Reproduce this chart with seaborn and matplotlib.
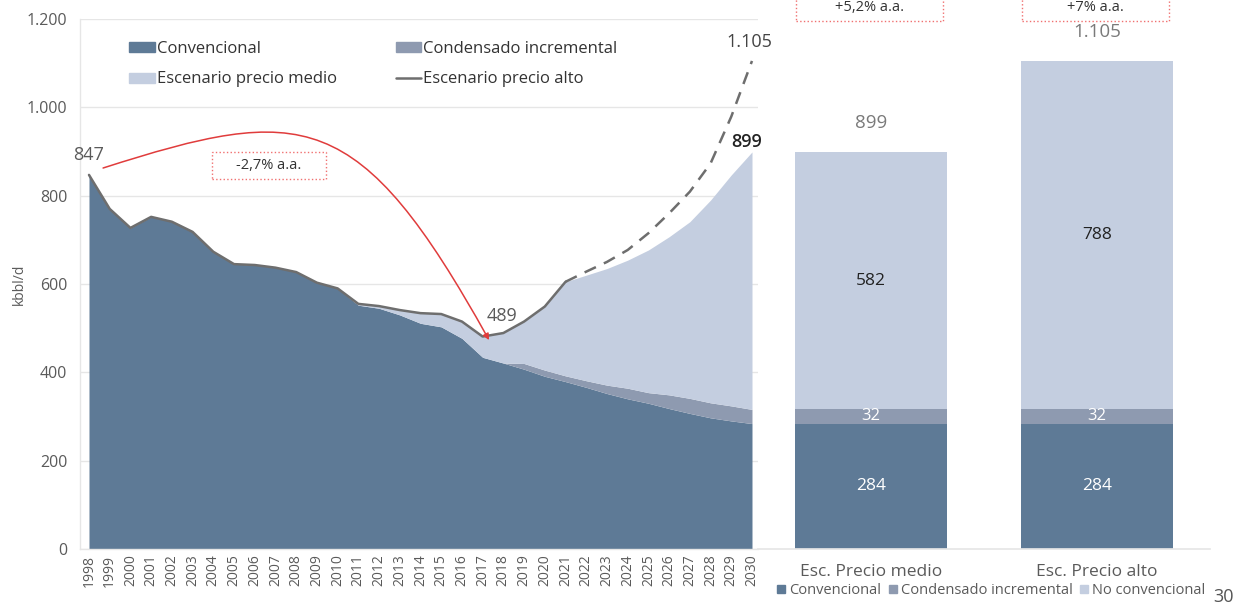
import numpy as np
import pandas as pd
import matplotlib
matplotlib.use("Agg")
import matplotlib.pyplot as plt
from matplotlib.patches import Patch, Rectangle, FancyArrowPatch
from matplotlib.lines import Line2D
from matplotlib.path import Path
import seaborn as sns

# ---- data -------------------------------------------------------------
years = list(range(1998, 2031))
convencional = [847, 770, 727, 752, 741, 718, 673, 645, 643, 637, 627, 603, 590,
                552, 545, 530, 511, 503, 477, 434,
                421, 407, 391, 379, 366, 352, 340, 330, 318, 307, 297, 290, 284]
condensado = [0] * 21 + [13, 14, 13, 15, 19, 24, 24, 31, 34, 34, 34, 32]
total_medio = [847, 770, 727, 752, 741, 718, 673, 645, 643, 637, 627, 603, 590,
               555, 550, 541, 534, 532, 515, 481,
               489, 515, 549, 605, 620, 635, 654, 677, 707, 741, 790, 847, 899]
alto_years = [2021, 2022, 2023, 2024, 2025, 2026, 2027, 2028, 2029, 2030]
total_alto = [605, 628, 650, 677, 715, 760, 809, 873, 979, 1105]

escenarios = ["Esc. Precio medio", "Esc. Precio alto"]
bar_conv = [284, 284]
bar_cond = [32, 32]
bar_noconv = [582, 788]
bar_total = [899, 1105]
bar_growth = ["+5,2% a.a.", "+7% a.a."]
hist_growth = "-2,7% a.a."

# ---- style ------------------------------------------------------------
sns.set_theme(style="white")
plt.rcParams["font.family"] = ["Open Sans", "DejaVu Sans"]

C_CONV = "#5E7A96"
C_COND = "#8E9AB0"
C_LIGHT = "#C4CEE0"
C_LINE = "#6E6E6E"
C_GRID = "#E6E6E6"
C_TEXT = "#5A5A5A"
C_RED = "#E03C3C"

W, H = 1244, 606
fig = plt.figure(figsize=(W / 100, H / 100), dpi=100)

axb = fig.add_axes([758 / W, 57 / H, 452 / W, 530 / H])
ax = fig.add_axes([80 / W, 57 / H, 678 / W, 530 / H])
ax.set_zorder(3)
ax.patch.set_visible(False)
axb.patch.set_visible(False)

df = pd.DataFrame({"year": years, "conv": convencional, "cond": condensado,
                   "total": total_medio})
df["cc"] = df["conv"] + df["cond"]

# ---- left panel: stacked areas ---------------------------------------
ax.fill_between(df["year"], 0, df["conv"], color=C_CONV, lw=0, zorder=2)
ax.fill_between(df["year"], df["conv"], df["cc"], color=C_COND, lw=0, zorder=2)
ax.fill_between(df["year"], df["cc"], df["total"], color=C_LIGHT, lw=0, zorder=2)

hist = df[df["year"] <= 2021]
sns.lineplot(x=hist["year"], y=hist["total"], ax=ax, color=C_LINE, lw=1.8,
             legend=False, zorder=3)
sns.lineplot(x=alto_years, y=total_alto, ax=ax, color=C_LINE, lw=1.8,
             linestyle=(0, (5, 3.5)), legend=False, zorder=3)

ax.set_xlim(1997.566, 2030.29)
ax.set_ylim(0, 1200)
ax.set_yticks(range(0, 1201, 200))
ax.set_yticklabels(["0", "200", "400", "600", "800", "1.000", "1.200"])
ax.set_xticks(years)
ax.set_xticklabels([str(y) for y in years], rotation=90)
ax.yaxis.grid(True, color=C_GRID, lw=1, zorder=0)
ax.set_axisbelow(True)
ax.tick_params(axis="y", length=5, color=C_GRID, labelsize=11.5,
               labelcolor=C_TEXT, pad=4)
ax.tick_params(axis="x", length=0, labelsize=10, labelcolor=C_TEXT, pad=4)
for s in ["top", "right"]:
    ax.spines[s].set_visible(False)
for s in ["left", "bottom"]:
    ax.spines[s].set_color(C_GRID)
    ax.spines[s].set_linewidth(1)
ax.set_xlabel("")
ax.set_ylabel("kbbl/d", fontsize=10, color=C_TEXT)
ax.yaxis.set_label_coords(-53 / 678, 0.5)

# legend
handles = [Patch(color=C_CONV, label="Convencional"),
           Patch(color=C_LIGHT, label="Escenario precio medio"),
           Patch(color=C_COND, label="Condensado incremental"),
           Line2D([], [], color=C_LINE, lw=1.8, label="Escenario precio alto")]
leg = ax.legend(handles=handles, ncol=2, loc="upper left",
                bbox_to_anchor=(0.073, 0.958), frameon=False, fontsize=12,
                handlelength=1.55, handleheight=0.55, handletextpad=0.12,
                columnspacing=3.5, labelspacing=0.85, borderpad=0,
                borderaxespad=0)
for t in leg.get_texts():
    t.set_color("#333333")

# value labels
ax.text(1998, 892, f"{total_medio[0]:,}".replace(",", "."), ha="center",
        va="center", fontsize=13, color=C_TEXT)
ax.annotate("489", xy=(2018, 489), xytext=(-1, 12), textcoords="offset points",
            ha="center", va="center", fontsize=13, color=C_TEXT)
ax.annotate(f"{total_alto[-1]:,}".replace(",", "."), xy=(2030, total_alto[-1]),
            xytext=(-2, 14), textcoords="offset points", ha="center",
            va="center", fontsize=13, color="#444444", annotation_clip=False)
ax.annotate(str(total_medio[-1]), xy=(2030, total_medio[-1]), xytext=(-4, 7),
            textcoords="offset points", ha="center", va="center",
            fontsize=13, color="#222222", fontweight="semibold",
            annotation_clip=False)

# growth arrow and rate box
arc = Path([(1998.68, 862.6), (2008.33, 1007.5), (2011.03, 1003.0),
            (2017.31, 473.0)],
           [Path.MOVETO, Path.CURVE4, Path.CURVE4, Path.CURVE4])
ax.add_patch(FancyArrowPatch(path=arc, arrowstyle="-|>", mutation_scale=9,
                             color=C_RED, lw=1.1, zorder=5))
ax.add_patch(Rectangle((2003.94, 837.7), 5.5, 61.1, fill=True, fc="white",
                       ec="#F07070", ls=":", lw=1, zorder=5))
ax.text(2006.69, 868.2, hist_growth, ha="center", va="center", fontsize=10.5,
        color="#333333", zorder=6)

# ---- right panel: stacked bars ---------------------------------------
bdf = pd.DataFrame({"esc": escenarios, "conv": bar_conv, "cond": bar_cond,
                    "noconv": bar_noconv, "total": bar_total})
bdf["cc"] = bdf["conv"] + bdf["cond"]
for col, colour in (("total", C_LIGHT), ("cc", C_COND), ("conv", C_CONV)):
    sns.barplot(data=bdf, x="esc", y=col, color=colour, width=0.673,
                saturation=1, linewidth=0, ax=axb)

axb.set_xlim(-0.5, 1.5)
axb.set_ylim(0, 1200)
axb.set_yticks([])
axb.set_xlabel("")
axb.set_ylabel("")
for s in ["top", "right", "left"]:
    axb.spines[s].set_visible(False)
axb.spines["bottom"].set_color(C_GRID)
axb.set_xticks([0.5, 1.5], minor=True)
axb.tick_params(axis="x", which="minor", length=8, color=C_GRID, width=1)
axb.tick_params(axis="x", which="major", length=0, labelsize=12.5,
                labelcolor=C_TEXT, pad=11)

for i in range(len(escenarios)):
    conv, cond, tot = bar_conv[i], bar_cond[i], bar_total[i]
    axb.text(i, conv / 2, str(conv), ha="center", va="center", fontsize=12.5,
             color="white")
    axb.text(i, conv + cond / 2, str(cond), ha="center", va="center",
             fontsize=12, color="white")
    axb.text(i, (conv + cond + tot) / 2, str(bar_noconv[i]), ha="center",
             va="center", fontsize=12.5, color="#222222", fontweight="medium")
    axb.annotate(f"{tot:,}".replace(",", "."), xy=(i, tot), xytext=(0, 21),
                 textcoords="offset points", ha="center", va="center",
                 fontsize=13.5, color="#7A7A7A")
    axb.add_patch(Rectangle((i - 0.332, 1195), 0.652, 70, fill=True,
                            fc="white", ec="#F07070", ls=":", lw=1,
                            clip_on=False, zorder=5))
    axb.text(i - 0.006, 1225, bar_growth[i], ha="center", va="center",
             fontsize=10.5, color="#333333", clip_on=False, zorder=6)

# bottom legend of the bar panel
sq = [Line2D([], [], marker="s", ls="", color=c, markersize=6)
      for c in (C_CONV, C_COND, C_LIGHT)]
fig.legend(sq, ["Convencional", "Condensado incremental", "No convencional"],
           loc="center", bbox_to_anchor=(991 / W, 1 - 591 / H), ncol=3,
           frameon=False, fontsize=10.5, handlelength=0.6, handletextpad=0.25,
           columnspacing=0.5, labelcolor=C_TEXT, borderpad=0)

fig.text(1224 / W, 1 - 597 / H, "30", ha="center", va="center", fontsize=13,
         color="#555555")

fig.savefig("out.png", dpi=100)
